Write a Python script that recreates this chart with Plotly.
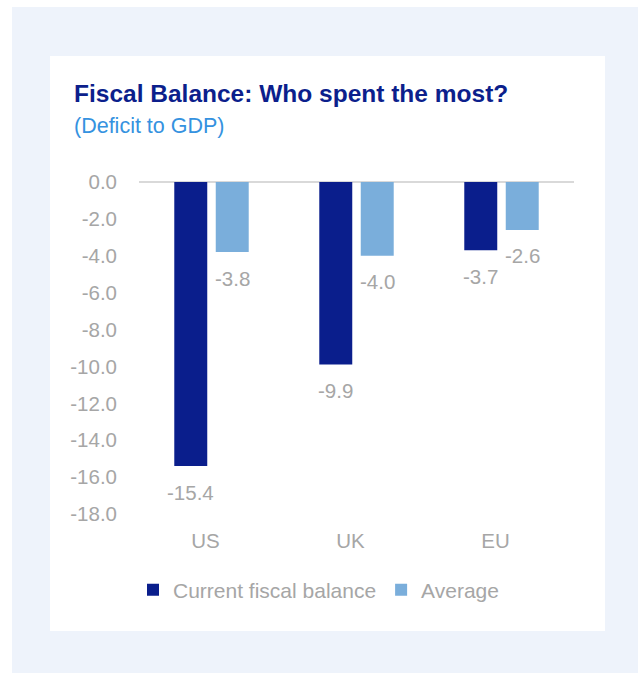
import plotly.graph_objects as go

# Fiscal balance as % of GDP
regions = ["US", "UK", "EU"]
current_balance = [-15.4, -9.9, -3.7]
average_balance = [-3.8, -4.0, -2.6]
y_ticks = [0, -2, -4, -6, -8, -10, -12, -14, -16, -18]
y_tick_labels = [f"{v:.1f}" for v in y_ticks]

NAVY = "#0a1e8c"
LIGHT = "#7aaedb"
GREY = "#a6a6a6"
FONT = "Arial, Liberation Sans, sans-serif"

W, H = 638, 673
L, R, T, B = 139, 64, 182, 159
PW, PH = W - L - R, H - T - B


def px_x(px):
    return (px - L) / PW


def px_y(py):
    return (H - B - py) / PH


fig = go.Figure()
fig.add_trace(go.Bar(name="Current fiscal balance", x=regions, y=current_balance,
                     marker_color=NAVY, marker_line_width=0))
fig.add_trace(go.Bar(name="Average", x=regions, y=average_balance,
                     marker_color=LIGHT, marker_line_width=0))

annotations = []
# value labels under each bar end
for values, shift in ((current_balance, -20.75), (average_balance, 20.75)):
    for region, v in zip(regions, values):
        annotations.append(dict(x=region, y=v, xref="x", yref="y", text=f"{v:.1f}",
                                showarrow=False, xshift=shift, yshift=-26,
                                yanchor="middle", font=dict(family=FONT, size=20.5, color=GREY)))

annotations.append(dict(x=px_x(72), y=px_y(93), xref="paper", yref="paper",
                        xanchor="left", yanchor="middle", showarrow=False,
                        text="<b>Fiscal Balance: Who spent the most?</b>",
                        font=dict(family=FONT, size=24.5, color="#0c1f8c")))
annotations.append(dict(x=px_x(72), y=px_y(126), xref="paper", yref="paper",
                        xanchor="left", yanchor="middle", showarrow=False,
                        text="(Deficit to GDP)",
                        font=dict(family=FONT, size=21.5, color="#3592e0")))

shapes = [
    dict(type="rect", xref="paper", yref="paper", layer="below", line_width=0,
         x0=px_x(12), x1=px_x(W + 2), y0=px_y(H + 2), y1=px_y(7), fillcolor="#eef3fb"),
    dict(type="rect", xref="paper", yref="paper", layer="below", line_width=0,
         x0=px_x(50), x1=px_x(605), y0=px_y(631), y1=px_y(56), fillcolor="#ffffff"),
]

fig.update_layout(
    width=W, height=H,
    margin=dict(l=L, r=R, t=T, b=B),
    paper_bgcolor="#ffffff", plot_bgcolor="rgba(0,0,0,0)",
    barmode="group", bargap=0.428, bargroupgap=0.205,
    showlegend=True,
    legend=dict(orientation="h", x=px_x(133), xanchor="left", y=px_y(590), yanchor="middle",
                font=dict(family=FONT, size=21, color=GREY), itemwidth=30,
                bgcolor="rgba(0,0,0,0)"),
    annotations=annotations,
    shapes=shapes,
    font=dict(family=FONT, color=GREY),
)
fig.update_xaxes(showgrid=False, showline=False, ticks="",
                 tickfont=dict(family=FONT, size=20.5, color=GREY),
                 ticklabelstandoff=12, ticklabelshift=-6)
fig.update_yaxes(range=[-18, 0], tickvals=y_ticks, ticktext=y_tick_labels, showgrid=False,
                 zeroline=True, zerolinecolor="#d9d9d9", zerolinewidth=1.5,
                 showline=False, ticks="", ticklabelstandoff=21,
                 tickfont=dict(family=FONT, size=20.5, color=GREY))

fig.write_html("out.html")
